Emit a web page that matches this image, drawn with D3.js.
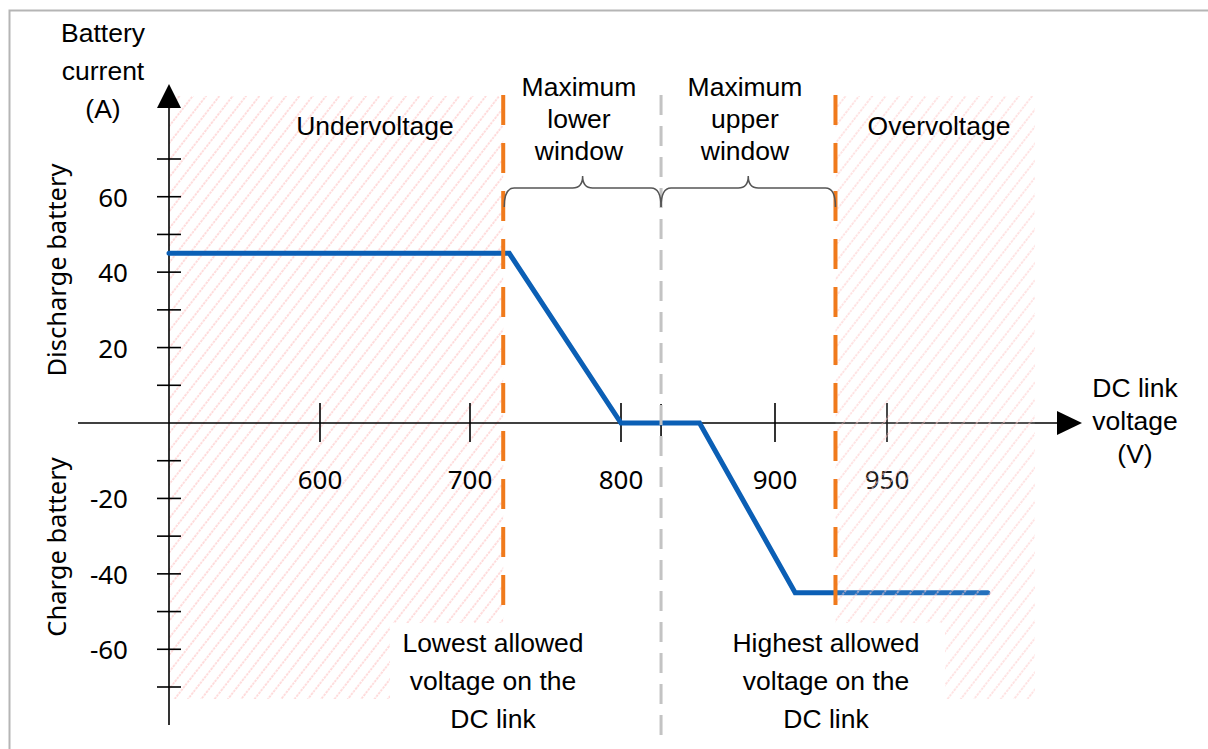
<!DOCTYPE html>
<html>
<head>
<meta charset="utf-8">
<script src="https://cdn.jsdelivr.net/npm/d3@7"></script>
<style>
  html, body { margin: 0; padding: 0; background: #fff; }
  svg { display: block; }
</style>
</head>
<body>
<svg id="chart" width="1208" height="749"></svg>
<script>
// Battery current response over the DC link voltage
const voltage = [500, 726, 800, 851, 909, 995];   // V
const current = [45, 45, 0, 0, -45, -45];          // A

// Voltage limits and window centre (V)
const lowestAllowed = 722;
const windowCentre = 826;
const highestAllowed = 927;
const axisStartVoltage = 500;
const overvoltageEnd = 1016;

// Tick values and labels
const xTickValues = [600, 700, 800, 900, 950];
const xTickLabels = ["600", "700", "800", "900", "950"];
const yMinorTicks = [70, 60, 50, 40, 30, 20, 10, -10, -20, -30, -40, -50, -60, -70];
const yLabelValues = [60, 40, 20, -20, -40, -60];
const yLabelTexts = ["60", "40", "20", "-20", "-40", "-60"];

const svg = d3.select("#chart");

// Voltage axis is drawn schematically: 900–950 V is compressed
const x = d3.scaleLinear()
  .domain([500, 600, 700, 800, 900, 950])
  .range([169, 320, 470, 621, 775, 887]);
const y = d3.scaleLinear().domain([-70, 70]).range([687, 159]);

const sans = "'Liberation Sans', Arial, sans-serif";
const tickFont = "'Noto Sans', 'Open Sans', sans-serif";
const textSize = 26.5;
const tickSize = 26;

// Outer frame
svg.append("rect")
  .attr("x", 9.5).attr("y", 10.5).attr("width", 1300).attr("height", 800)
  .attr("fill", "none").attr("stroke", "#b5b5b5").attr("stroke-width", 2);

// Hatch pattern for the forbidden voltage ranges
const defs = svg.append("defs");
const pat = defs.append("pattern")
  .attr("id", "hatch").attr("patternUnits", "userSpaceOnUse")
  .attr("width", 10.5).attr("height", 10.5)
  .attr("patternTransform", "rotate(38)");
pat.append("line")
  .attr("x1", 1).attr("y1", 0).attr("x2", 1).attr("y2", 10.5)
  .attr("stroke", "#ffcaca").attr("stroke-width", 1.3)
  .attr("stroke-dasharray", "2.5 1");

const hatchTop = 96, hatchBottom = 699;

// Undervoltage region
svg.append("rect")
  .attr("x", x(axisStartVoltage)).attr("y", hatchTop)
  .attr("width", x(lowestAllowed) - x(axisStartVoltage))
  .attr("height", hatchBottom - hatchTop)
  .attr("fill", "url(#hatch)");

// Tick at the window centre (mostly hidden under the grey dashed line)
svg.append("line")
  .attr("x1", x(windowCentre)).attr("x2", x(windowCentre))
  .attr("y1", y(0) - 19).attr("y2", y(0) + 24)
  .attr("stroke", "#000").attr("stroke-width", 1.6);

// Axes
const axisColor = "#000";
svg.append("line")
  .attr("x1", 78).attr("x2", 1060).attr("y1", y(0)).attr("y2", y(0))
  .attr("stroke", axisColor).attr("stroke-width", 1.6);
svg.append("path")
  .attr("d", `M1057,${y(0) - 12} L1082,${y(0)} L1057,${y(0) + 12} Z`)
  .attr("fill", axisColor);
svg.append("line")
  .attr("x1", x(axisStartVoltage)).attr("x2", x(axisStartVoltage))
  .attr("y1", 100).attr("y2", 725)
  .attr("stroke", axisColor).attr("stroke-width", 1.6);
svg.append("path")
  .attr("d", `M${x(axisStartVoltage) - 12},108 L${x(axisStartVoltage)},84 L${x(axisStartVoltage) + 12},108 Z`)
  .attr("fill", axisColor);

// Y ticks cross the axis
svg.append("g").selectAll("line").data(yMinorTicks).join("line")
  .attr("x1", x(axisStartVoltage) - 12).attr("x2", x(axisStartVoltage) + 12)
  .attr("y1", d => y(d)).attr("y2", d => y(d))
  .attr("stroke", axisColor).attr("stroke-width", 1.6);
svg.append("g").selectAll("text").data(yLabelValues).join("text")
  .attr("x", 128).attr("y", d => y(d))
  .attr("text-anchor", "end").attr("dominant-baseline", "central")
  .attr("font-family", tickFont).attr("font-size", tickSize).attr("fill", "#000")
  .text((d, i) => yLabelTexts[i]);

// X ticks cross the axis
svg.append("g").selectAll("line").data(xTickValues).join("line")
  .attr("x1", d => x(d)).attr("x2", d => x(d))
  .attr("y1", y(0) - 20).attr("y2", y(0) + 19)
  .attr("stroke", axisColor).attr("stroke-width", 1.6);
svg.append("g").selectAll("text").data(xTickValues).join("text")
  .attr("x", d => x(d)).attr("y", 489)
  .attr("text-anchor", "middle")
  .attr("font-family", tickFont).attr("font-size", tickSize).attr("fill", "#000")
  .text((d, i) => xTickLabels[i]);

// Battery current curve
const line = d3.line().x(d => x(d[0])).y(d => y(d[1]));
svg.append("path")
  .datum(voltage.map((v, i) => [v, current[i]]))
  .attr("d", line)
  .attr("fill", "none").attr("stroke", "#0b5fb5").attr("stroke-width", 5)
  .attr("stroke-linejoin", "miter").attr("stroke-linecap", "round");

// Overvoltage region (drawn over the curve)
svg.append("rect")
  .attr("x", x(highestAllowed)).attr("y", hatchTop)
  .attr("width", x(overvoltageEnd) - x(highestAllowed))
  .attr("height", hatchBottom - hatchTop)
  .attr("fill", "#fff").attr("fill-opacity", 0.1);
svg.append("rect")
  .attr("x", x(highestAllowed)).attr("y", hatchTop)
  .attr("width", x(overvoltageEnd) - x(highestAllowed))
  .attr("height", hatchBottom - hatchTop)
  .attr("fill", "url(#hatch)").attr("fill-opacity", 0.8);

// Grey dashed window centre line
svg.append("line")
  .attr("x1", x(windowCentre)).attr("x2", x(windowCentre))
  .attr("y1", 95).attr("y2", 740)
  .attr("stroke", "#c3c3c3").attr("stroke-width", 3)
  .attr("stroke-dasharray", "20 11");

// Orange dashed voltage limits
svg.append("g").selectAll("line").data([lowestAllowed, highestAllowed]).join("line")
  .attr("x1", d => x(d)).attr("x2", d => x(d))
  .attr("y1", 95).attr("y2", 699)
  .attr("stroke", "#f07a1c").attr("stroke-width", 4)
  .attr("stroke-dasharray", "30 18");

// Curly braces above the windows
function brace(xa, xb) {
  const top = 188, end = 207, tip = 176, r = 10;
  const xm = (xa + xb) / 2;
  return `M${xa},${end} Q${xa},${top} ${xa + r},${top} L${xm - r},${top} ` +
         `Q${xm},${top} ${xm},${tip} Q${xm},${top} ${xm + r},${top} ` +
         `L${xb - r},${top} Q${xb},${top} ${xb},${end}`;
}
svg.append("path").attr("d", brace(x(lowestAllowed) + 1, x(windowCentre)))
  .attr("fill", "none").attr("stroke", "#555").attr("stroke-width", 1.5);
svg.append("path").attr("d", brace(x(windowCentre), x(highestAllowed)))
  .attr("fill", "none").attr("stroke", "#555").attr("stroke-width", 1.5);

// White boxes behind the bottom annotations
svg.append("rect").attr("x", 390).attr("y", 623).attr("width", 207).attr("height", 122).attr("fill", "#fff");
svg.append("rect").attr("x", 707).attr("y", 623).attr("width", 238).attr("height", 122).attr("fill", "#fff");

// Multi-line text helper
function multiline(cx, baseline, lines, lh, size, family) {
  const t = svg.append("text")
    .attr("text-anchor", "middle")
    .attr("font-family", family).attr("font-size", size).attr("fill", "#000");
  lines.forEach((s, i) => {
    t.append("tspan").attr("x", cx).attr("y", baseline + i * lh).text(s);
  });
  return t;
}

multiline(103, 42, ["Battery", "current", "(A)"], 38, textSize, sans);
multiline(1135, 397, ["DC link", "voltage", "(V)"], 33, textSize, sans);
multiline(375, 135, ["Undervoltage"], 32, textSize, sans);
multiline(939, 135, ["Overvoltage"], 32, textSize, sans);
multiline(579, 96, ["Maximum", "lower", "window"], 32, textSize, sans);
multiline(745, 96, ["Maximum", "upper", "window"], 32, textSize, sans);
multiline(493, 652, ["Lowest allowed", "voltage on the", "DC link"], 38, textSize, sans);
multiline(826, 652, ["Highest allowed", "voltage on the", "DC link"], 38, textSize, sans);

// Rotated side labels
svg.append("text")
  .attr("transform", "translate(66,270) rotate(-90)")
  .attr("text-anchor", "middle")
  .attr("font-family", tickFont).attr("font-size", 25.5).attr("fill", "#000")
  .text("Discharge battery");
svg.append("text")
  .attr("transform", "translate(66,547) rotate(-90)")
  .attr("text-anchor", "middle")
  .attr("font-family", tickFont).attr("font-size", 25.5).attr("fill", "#000")
  .text("Charge battery");
</script>
</body>
</html>
